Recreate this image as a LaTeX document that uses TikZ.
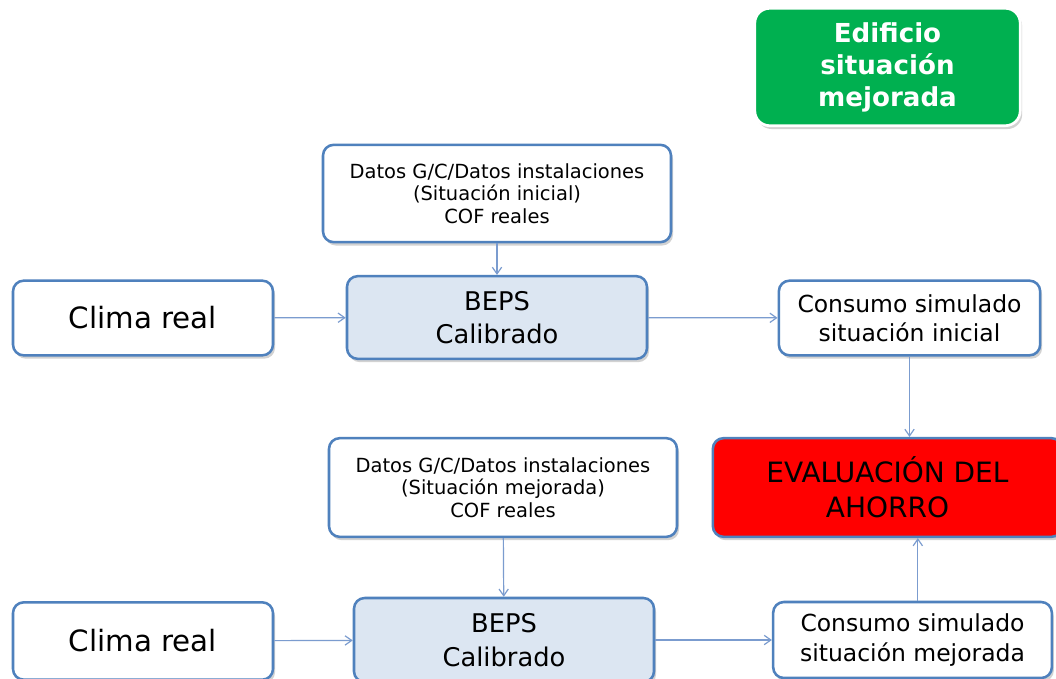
\documentclass[tikz,border=0pt]{standalone}
\usepackage{fontspec}
\setmainfont{DejaVu Sans}
\usepackage{xcolor}
\usetikzlibrary{arrows.meta,positioning,shadows}
\definecolor{edge}{HTML}{4F81BD}
\definecolor{lnk}{HTML}{7B9CCF}
\definecolor{bfill}{HTML}{DCE6F2}
\definecolor{okgreen}{HTML}{00B050}
\definecolor{alert}{HTML}{FF0000}

\begin{document}
\begin{tikzpicture}[
  x=0.75pt, y=-0.75pt,
  every node/.style={align=center},
  box/.style={rounded corners=8pt, draw=edge, line width=1.9pt, fill=white,
              drop shadow={shadow xshift=1.5pt, shadow yshift=-2.5pt, opacity=0.35},
              inner sep=2pt},
  datos/.style={box, minimum width=261pt, minimum height=73pt,
                font=\fontsize{14.6}{17}\selectfont},
  clima/.style={box, minimum width=195pt, minimum height=56pt,
                font=\fontsize{22}{26}\selectfont},
  beps/.style={box, fill=bfill, minimum width=225pt, minimum height=62pt,
               font=\fontsize{19.3}{25}\selectfont},
  cons/.style={box, minimum height=56pt, font=\fontsize{17.6}{22}\selectfont},
  arr/.style={-{Straight Barb[length=5pt,width=7pt]}, line width=0.9pt, draw=lnk},
]
\clip (0,0) rectangle (1056,678);
\fill[white] (0,0) rectangle (1056,678);

% cabecera
\node[rounded corners=11pt, draw=white, line width=2pt, fill=okgreen, text=white,
      minimum width=199pt, minimum height=88pt,
      drop shadow={shadow xshift=1.5pt, shadow yshift=-2.5pt, opacity=0.35},
      font=\fontsize{19.6}{24}\selectfont\bfseries] (edif) at (887.5,67)
      {Edificio\\situación\\mejorada};

% situacion inicial
\node[datos] (datA) at (497,193.5) {Datos G/C/Datos instalaciones\\(Situación inicial)\\COF reales};
\node[clima] (climA) at (143,318) {Clima real};
\node[beps] (bepsA) at (497,317.5) {BEPS\\Calibrado};
\node[cons, minimum width=196pt] (consA) at (909.5,318) {Consumo simulado\\situación inicial};

% evaluacion
\node[box, fill=alert, minimum width=262pt, minimum height=74pt,
      font=\fontsize{21}{26}\selectfont] (eval) at (887.5,487.5)
      {EVALUACIÓN DEL\\AHORRO};

% situacion mejorada
\node[datos, minimum height=74pt] (datB) at (503,487.5) {Datos G/C/Datos instalaciones\\(Situación mejorada)\\COF reales};
\node[clima, minimum height=58pt] (climB) at (143,641) {Clima real};
\node[beps, minimum height=63pt] (bepsB) at (504,640) {BEPS\\Calibrado};
\node[cons, minimum width=209pt, minimum height=57pt] (consB) at (912.5,640) {Consumo simulado\\situación mejorada};

\draw[arr] (climA) -- (bepsA);
\draw[arr] (datA) -- (bepsA);
\draw[arr] (bepsA) -- (consA);
\draw[arr] (consA.south) -- (consA.south |- eval.north);
\draw[arr] (climB) -- (bepsB);
\draw[arr] (datB) -- (bepsB);
\draw[arr] (bepsB) -- (consB);
\draw[arr] ([xshift=4pt]consB.north) -- ([xshift=4pt]consB.north |- eval.south);
\end{tikzpicture}
\end{document}
